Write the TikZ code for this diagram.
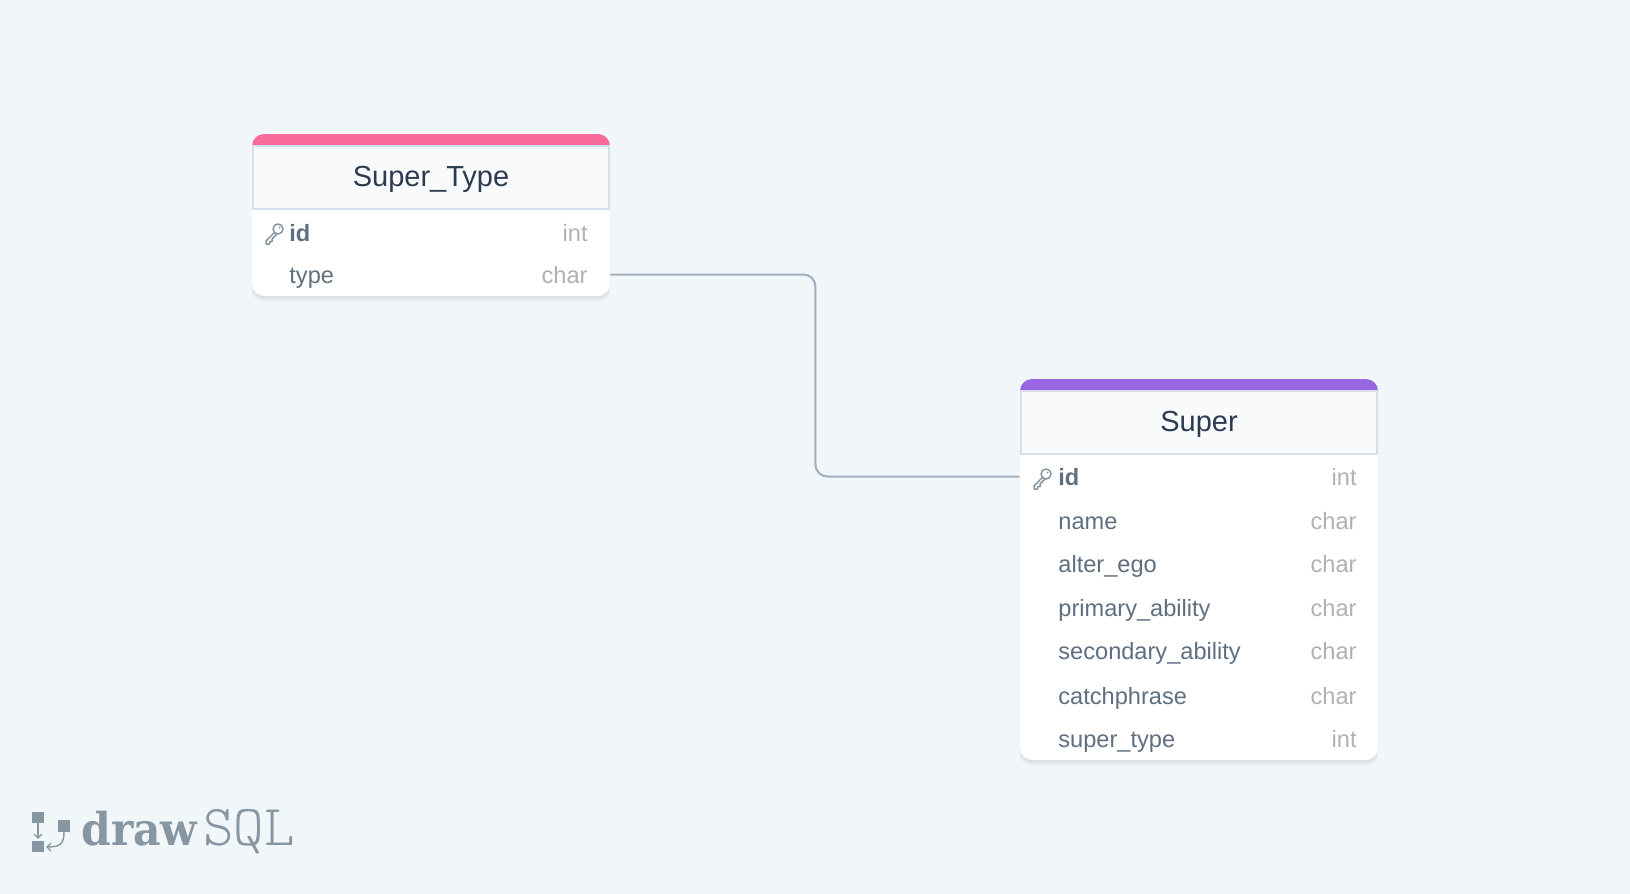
\documentclass[tikz,border=0pt]{standalone}
\usepackage{fontspec}
\usepackage{xcolor}
\setmainfont{Liberation Sans}
\newfontfamily\logoheavy{DejaVu Serif}
\definecolor{pagebg}{HTML}{F1F6F9}
\definecolor{pinkbar}{HTML}{F96C9A}
\definecolor{purplebar}{HTML}{9966E3}
\definecolor{headfill}{HTML}{F8FAFC}
\definecolor{headline}{HTML}{D6DFEB}
\definecolor{titleink}{HTML}{2D3B50}
\definecolor{fieldink}{HTML}{5F6F80}
\definecolor{typeink}{HTML}{AEB2B6}
\definecolor{logoink}{HTML}{8696A3}
\definecolor{relink}{HTML}{A0AEC0}
\tikzset{
    tablebody/.style={rectangle, fill=white, rounded corners=6pt, minimum width=179pt, inner sep=0pt,
        preaction={fill=titleink, opacity=.02, transform canvas={yshift=-3.5pt}},
        preaction={fill=titleink, opacity=.03, transform canvas={yshift=-2.5pt}},
        preaction={fill=titleink, opacity=.04, transform canvas={yshift=-1.5pt}},
        preaction={fill=titleink, opacity=.04, transform canvas={yshift=-.7pt}}},
    tablehead/.style={rectangle, draw=headline, line width=1pt, fill=headfill, minimum width=178pt, minimum height=31.5pt, inner sep=0pt,
        text height=10pt, text depth=.3pt, font=\fontsize{14.5}{18}\selectfont, text=titleink},
    rowbox/.style={rectangle, minimum width=179pt, minimum height=20pt, inner sep=0pt},
    fieldname/.style={anchor=base west, inner sep=0pt, font=\fontsize{11.8}{14}\selectfont, text=fieldink},
    fieldkey/.style={fieldname, font=\fontsize{11.8}{14}\selectfont\bfseries},
    fieldtype/.style={anchor=base east, inner sep=0pt, font=\fontsize{11.8}{14}\selectfont, text=typeink},
    relline/.style={draw=relink, line width=1pt, rounded corners=6pt},
    keyicon/.pic={
        \draw[logoink, line width=.75pt, line join=round] (4,-4) circle (5);
        \draw[logoink, line width=.75pt, line join=round] (.4,-.6) -- (-8,8) -- (-8,11) -- (-4.5,11) -- (-4.5,8.5) -- (-2,8.5) -- (-2,6) -- (3,1);
        \fill[logoink] (5.5,-5.5) circle (1);
    },
}
\begin{document}
\begin{tikzpicture}[x=.5pt, y=-.5pt]
    \useasboundingbox[fill=pagebg] (0,0) rectangle (1630,894);

    % Super_Type table
    \node[tablebody, minimum height=81pt] (typetable) at (431,215) {};
    \fill[pinkbar, rounded corners=6pt] (252,146) -- (252,134) -- (610,134) -- (610,146);
    \node[tablehead] (typehead) at (431,177) {Super\_Type};
    \pic at (274,233) {keyicon};
    \node[fieldkey] (typeidname) at (289,241.5) {id};
    \node[fieldtype] (typeidtype) at (588,241.5) {int};
    \node[rowbox] (typerow) at (431,274.5) {};
    \node[fieldname] (typetypename) at (289,283.5) {type};
    \node[fieldtype] (typetypetype) at (588,283.5) {char};

    % Super table
    \node[tablebody, minimum height=190.5pt] (supertable) at (1199,569.5) {};
    \fill[purplebar, rounded corners=6pt] (1020,391) -- (1020,379) -- (1378,379) -- (1378,391);
    \node[tablehead] (superhead) at (1199,422) {Super};
    \pic at (1042,478) {keyicon};
    \node[rowbox] (superrow) at (1199,476.5) {};
    \node[fieldkey] (superidname) at (1058,485.5) {id};
    \node[fieldtype] (superidtype) at (1357,485.5) {int};
    \node[fieldname] (supername) at (1058,529) {name};
    \node[fieldtype] (supernametype) at (1357,529) {char};
    \node[fieldname] (superalter) at (1058,572) {alter\_ego};
    \node[fieldtype] (superaltertype) at (1357,572) {char};
    \node[fieldname] (superprimary) at (1058,616) {primary\_ability};
    \node[fieldtype] (superprimarytype) at (1357,616) {char};
    \node[fieldname] (supersecondary) at (1058,659) {secondary\_ability};
    \node[fieldtype] (supersecondarytype) at (1357,659) {char};
    \node[fieldname] (supercatch) at (1058,704) {catchphrase};
    \node[fieldtype] (supercatchtype) at (1357,704) {char};
    \node[fieldname] (supersupertype) at (1058,747) {super\_type};
    \node[fieldtype] (supersupertypetype) at (1357,747) {int};

    % relation
    \draw[relline] (typerow.east) -- ++(205,0) |- (superrow.west);

    % logo
    \fill[logoink] (32,812) rectangle (44,823);
    \fill[logoink] (32,841) rectangle (44,852);
    \fill[logoink] (58,820) rectangle (70,832);
    \draw[logoink, line width=.7pt] (38,823) -- (38,838);
    \draw[logoink, line width=.7pt] (34,834) -- (38,838) -- (42,834);
    \draw[logoink, line width=.7pt] (64,832) .. controls (64,844) and (60,847) .. (47,847);
    \draw[logoink, line width=.7pt] (51,843) -- (47,847) -- (51,851);
    \node[anchor=base west, inner sep=0pt, text=logoink, xscale=.94, font=\logoheavy\bfseries\fontsize{22.6}{26}\selectfont] (logodraw) at (81,845) {draw};
    \node[anchor=base west, inner sep=0pt, text=logoink, font=\ttfamily\fontseries{l}\fontsize{29}{30}\selectfont] (logosql) at (203,845) {SQL};
\end{tikzpicture}
\end{document}
